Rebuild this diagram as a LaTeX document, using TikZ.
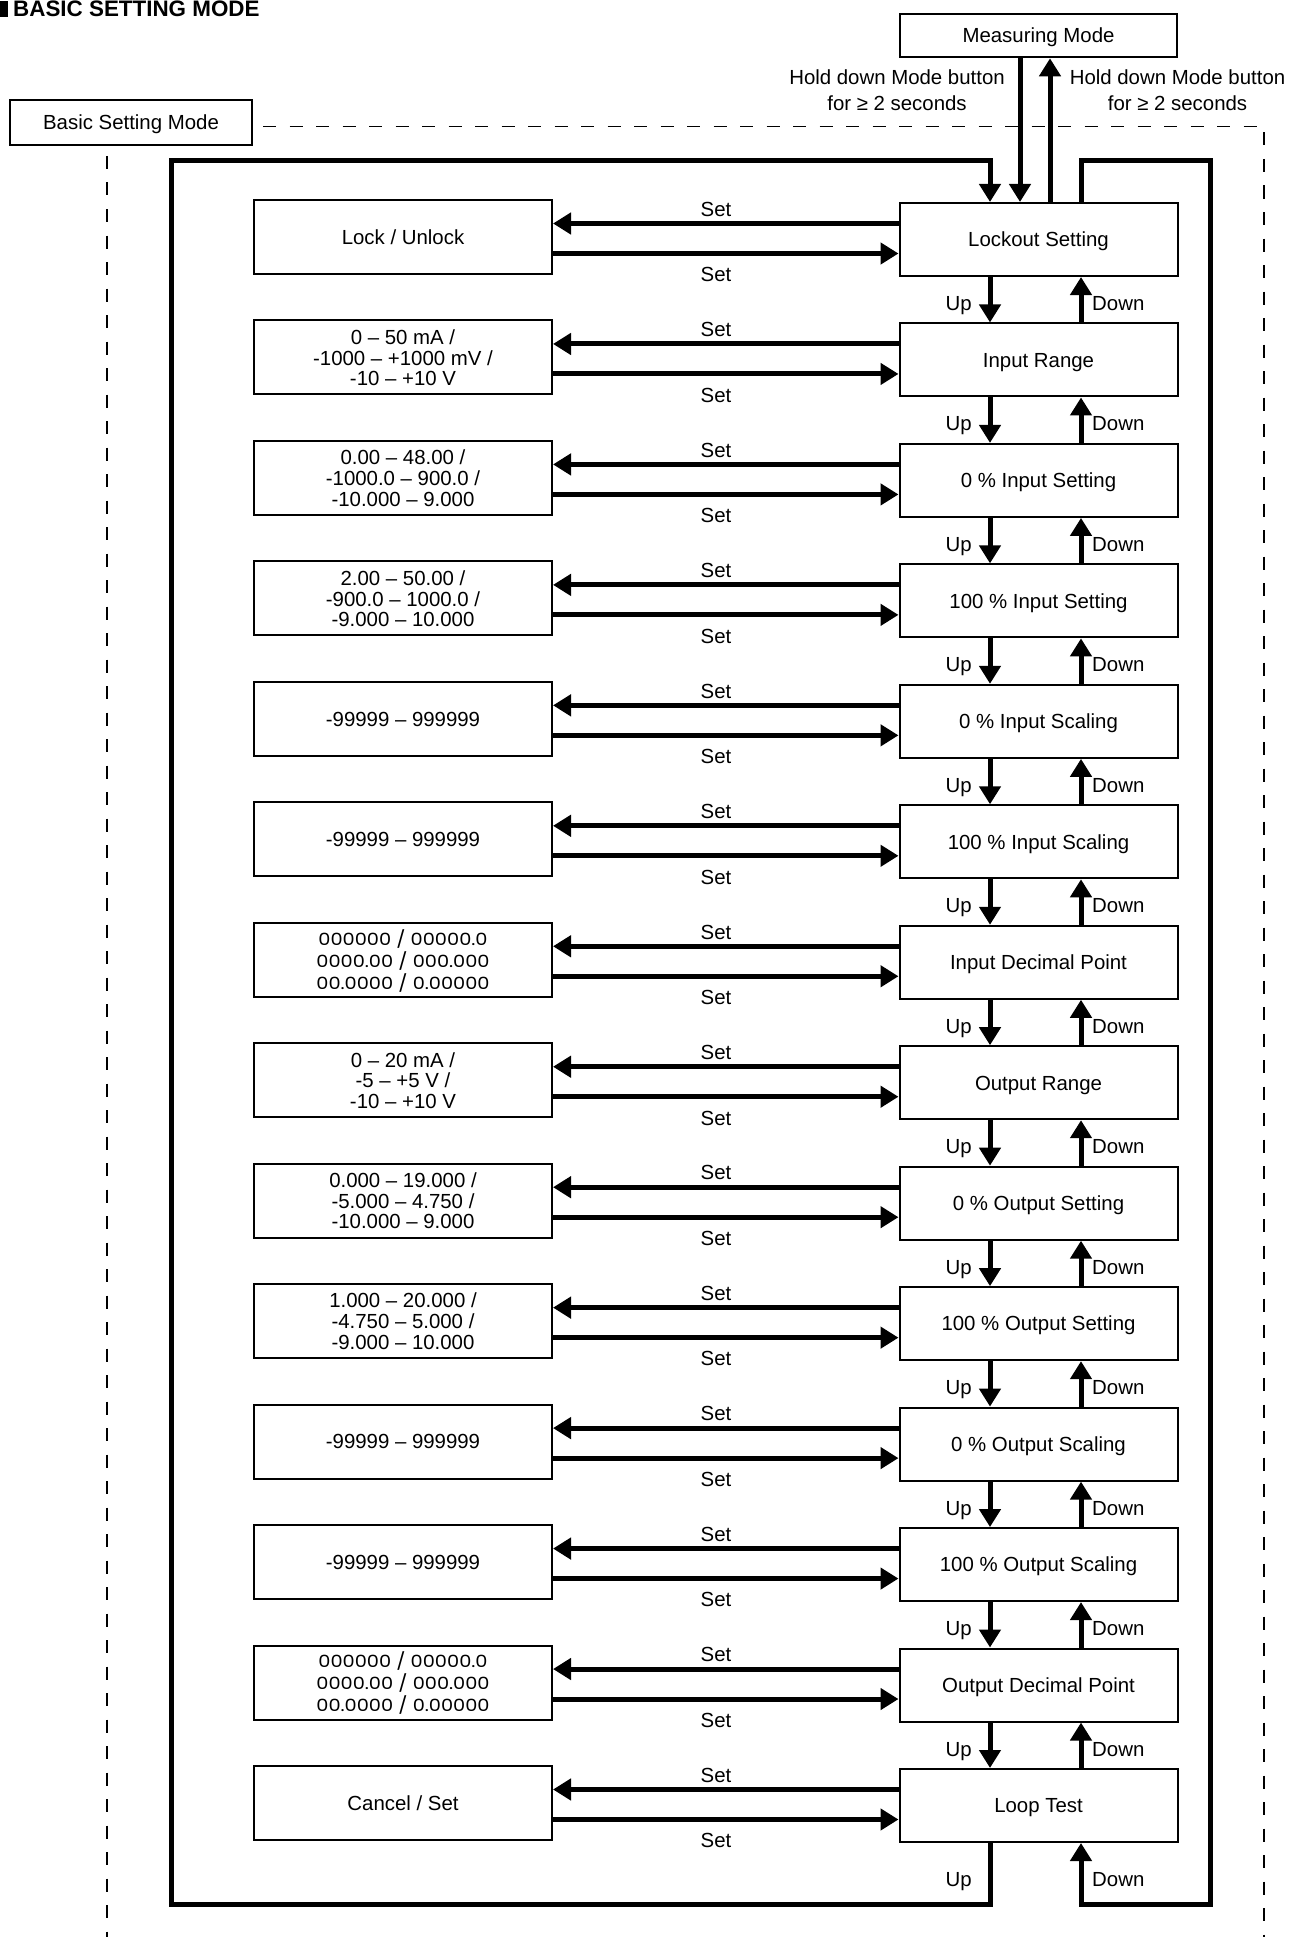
\documentclass[tikz,border=0pt]{standalone}
\usepackage{fontspec}
\usepackage{graphicx}
\setmainfont{Liberation Sans}
\newfontfamily\geofont{Poppins}
\usetikzlibrary{arrows.meta}
\newcommand\fsz{\fontsize{20.4pt}{20.5pt}\selectfont}
\newcommand\tlines[3]{\begin{tabular}[t]{@{}c@{}}#1\\#2\\#3\end{tabular}}
\newcommand\glines[3]{{\geofont\fontsize{16.8pt}{20.5pt}\selectfont\scalebox{1.15}[1]{\tlines{#1}{#2}{#3}}}}
\begin{document}
\begin{tikzpicture}[x=1pt,y=-1pt,
  every node/.style={font=\fsz, inner sep=0pt},
  box/.style={draw, line width=2pt, text height=14.6pt, text depth=0pt, align=center},
  rbox/.style={box, minimum width=278pt, minimum height=73pt},
  lbox/.style={box, minimum width=298pt, minimum height=74pt},
  lbt/.style={lbox, text depth=41pt},
  lbg/.style={lbox, text height=11.8pt, text depth=41pt},
  tri/.style={line width=5pt, line join=miter, -{Triangle[length=18pt,width=21pt]}},
  dsh/.style={line width=1.3pt, dash pattern=on 13pt off 13.5pt, dash phase=16.5pt}]
\useasboundingbox (0,0) rectangle (1290,1937);

% title
\fill (-2,0.8) rectangle (8,17);
\node[anchor=base west, font=\bfseries\fontsize{22.4pt}{24pt}\selectfont] (title) at (13,17) {BASIC SETTING MODE};

% top boxes
\node[box, minimum width=277pt, minimum height=43.6pt] (M) at (1038.5,35.5) {Measuring Mode};
\node[box, minimum width=242pt, minimum height=45pt] (B) at (131,122.5) {Basic Setting Mode};

\node[anchor=base] (h1) at (897,85) {\fontsize{20.4pt}{25.5pt}\selectfont\begin{tabular}[t]{@{}c@{}}Hold down Mode button\\for ≥ 2 seconds\end{tabular}};
\node[anchor=base] (h2) at (1177.5,85) {\fontsize{20.4pt}{25.5pt}\selectfont\begin{tabular}[t]{@{}c@{}}Hold down Mode button\\for ≥ 2 seconds\end{tabular}};

% right boxes
\node[rbox] (R0) at (1038.5,239.5+120.46*0) {Lockout Setting};
\node[rbox] (R1) at (1038.5,239.5+120.46*1) {Input Range};
\node[rbox] (R2) at (1038.5,239.5+120.46*2) {0 \% Input Setting};
\node[rbox] (R3) at (1038.5,239.5+120.46*3) {100 \% Input Setting};
\node[rbox] (R4) at (1038.5,239.5+120.46*4) {0 \% Input Scaling};
\node[rbox] (R5) at (1038.5,239.5+120.46*5) {100 \% Input Scaling};
\node[rbox] (R6) at (1038.5,239.5+120.46*6) {Input Decimal Point};
\node[rbox] (R7) at (1038.5,239.5+120.46*7) {Output Range};
\node[rbox] (R8) at (1038.5,239.5+120.46*8) {0 \% Output Setting};
\node[rbox] (R9) at (1038.5,239.5+120.46*9) {100 \% Output Setting};
\node[rbox] (R10) at (1038.5,239.5+120.46*10) {0 \% Output Scaling};
\node[rbox] (R11) at (1038.5,239.5+120.46*11) {100 \% Output Scaling};
\node[rbox] (R12) at (1038.5,239.5+120.46*12) {Output Decimal Point};
\node[rbox] (R13) at (1038.5,239.5+120.46*13) {Loop Test};

% left boxes
\node[lbox] (L0) at (403,237+120.46*0) {Lock / Unlock};
\node[lbt] (L1) at (403,237+120.46*1) {\tlines{0 – 50 mA /}{-1000 – +1000 mV /}{-10 – +10 V}};
\node[lbt] (L2) at (403,237+120.46*2) {\tlines{0.00 – 48.00 /}{-1000.0 – 900.0 /}{-10.000 – 9.000}};
\node[lbt] (L3) at (403,237+120.46*3) {\tlines{2.00 – 50.00 /}{-900.0 – 1000.0 /}{-9.000 – 10.000}};
\node[lbox] (L4) at (403,237+120.46*4) {-99999 – 999999};
\node[lbox] (L5) at (403,237+120.46*5) {-99999 – 999999};
\node[lbg] (L6) at (403,237+120.46*6) {\glines{000000 / 00000.0}{0000.00 / 000.000}{00.0000 / 0.00000}};
\node[lbt] (L7) at (403,237+120.46*7) {\tlines{0 – 20 mA /}{-5 – +5 V /}{-10 – +10 V}};
\node[lbt] (L8) at (403,237+120.46*8) {\tlines{0.000 – 19.000 /}{-5.000 – 4.750 /}{-10.000 – 9.000}};
\node[lbt] (L9) at (403,237+120.46*9) {\tlines{1.000 – 20.000 /}{-4.750 – 5.000 /}{-9.000 – 10.000}};
\node[lbox] (L10) at (403,237+120.46*10) {-99999 – 999999};
\node[lbox] (L11) at (403,237+120.46*11) {-99999 – 999999};
\node[lbg] (L12) at (403,237+120.46*12) {\glines{000000 / 00000.0}{0000.00 / 000.000}{00.0000 / 0.00000}};
\node[lbox] (L13) at (403,237+120.46*13) {Cancel / Set};

% set arrows and labels
\foreach \i in {0,...,13}{
  \draw[tri] ([yshift=16pt]R\i.west) -- ([yshift=16pt]R\i.west -| L\i.east);
  \draw[tri] ([yshift=-14pt]R\i.west -| L\i.east) -- ([yshift=-14pt]R\i.west);
  \node[anchor=base] (su\i) at (716,{239.5+120.46*\i-23.2}) {Set};
  \node[anchor=base] (sl\i) at (716,{239.5+120.46*\i+42.3}) {Set};
}

% up / down
\coordinate (ux) at (990,0);
\coordinate (dx) at (1081,0);
\coordinate (mdx) at (1020,0);
\coordinate (mux) at (1050,0);
\foreach \i in {0,...,12}{
  \pgfmathtruncatemacro\j{\i+1}
  \draw[tri] (R\i.south -| ux) -- (R\j.north -| ux);
  \draw[tri] (R\j.north -| dx) -- (R\i.south -| dx);
  \node[anchor=base east] (up\i) at (972,{239.5+120.46*\i+71}) {Up};
  \node[anchor=base west] (dn\i) at (1092,{239.5+120.46*\i+71}) {Down};
}

% measuring mode arrows
\draw[tri] (M.south -| mdx) -- (R0.north -| mdx);
\draw[tri] (R0.north -| mux) -- (M.south -| mux);

% outer loop
\coordinate (lt) at (171,161);
\coordinate (lb) at (171,1904);
\coordinate (rt) at (1210,161);
\coordinate (rb) at (1210,1904);
\draw[tri] (R13.south -| ux) -- (ux |- lb) -- (lb) -- (lt) -- (ux |- lt) -- (R0.north -| ux);
\draw[tri] (R0.north -| dx) -- (dx |- rt) -- (rt) -- (rb) -- (dx |- rb) -- (R13.south -| dx);
\node[anchor=base east] (upb) at (972,1886) {Up};
\node[anchor=base west] (dnb) at (1092,1886) {Down};

% dashed frame
\coordinate (dtr) at (1264,126.5);
\coordinate (dbr) at (1264,1945);
\coordinate (dbl) at (107,1945);
\draw[dsh] (B.east |- dtr) -- (dtr) -- (dbr);
\draw[dsh] (B.south -| dbl) -- (dbl);
\end{tikzpicture}
\end{document}
